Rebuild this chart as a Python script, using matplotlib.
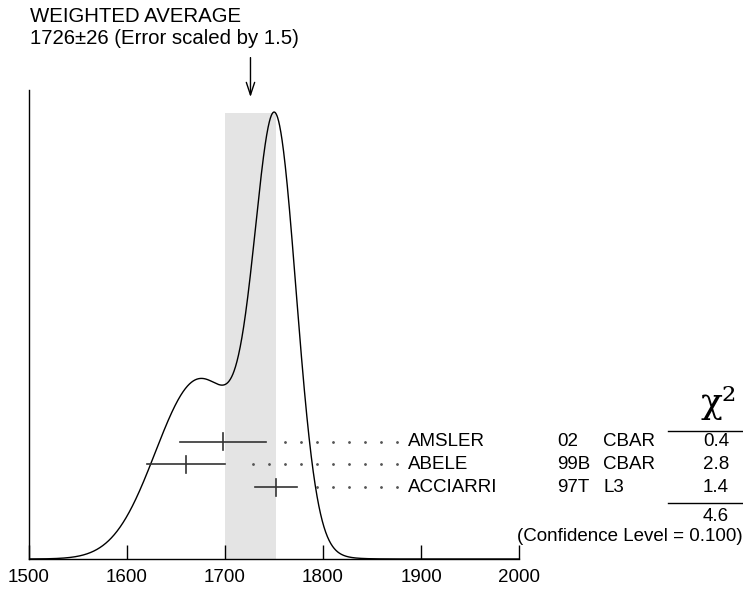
import matplotlib
matplotlib.use("Agg")
import matplotlib.pyplot as plt
import numpy as np

plt.rcParams['font.family'] = ['Liberation Sans', 'DejaVu Sans']

names = ['AMSLER', 'ABELE', 'ACCIARRI']
years = ['02', '99B', '97T']
experiments = ['CBAR', 'CBAR', 'L3']
values = [1698, 1660, 1752]
errors = [44, 40, 21]
chi2_labels = ['0.4', '2.8', '1.4']
chi2_total = '4.6'
conf_level = '0.100'

avg = 1726
avg_err = 26
scale = 1.5

xticks = [1500, 1600, 1700, 1800, 1900, 2000]

W, H = 743, 606
fig = plt.figure(figsize=(W / 100, H / 100), dpi=100)
ax = fig.add_axes([29 / W, (H - 559) / H, 490 / W, (559 - 90) / H])
ax.set_xlim(1500, 2000)
ax.set_ylim(0, 1)

# ideogram: each measurement a gaussian with area ~ 1/sigma
x = np.linspace(1500, 2000, 2001)
curve = np.zeros_like(x)
for v, e in zip(values, errors):
    curve += (1 / e) * np.exp(-0.5 * ((x - v) / e) ** 2) / (e * np.sqrt(2 * np.pi))
peak = 0.953
curve = curve / curve.max() * peak

ax.fill_between([avg - avg_err, avg + avg_err], 0, 0.951, color='#e4e4e4', lw=0, zorder=1)
ax.plot(x, curve, color='black', lw=1.0, zorder=3)

fs = 13.5
# rows of measurements
y0, dy = 0.25, 0.0485
dot_end, dot_step = 1875, 16.3
for i, (v, e) in enumerate(zip(values, errors)):
    y = y0 - i * dy
    ax.plot([v - e, v + e], [y, y], color='#333333', lw=1.2, zorder=4)
    ax.plot([v, v], [y - 0.018, y + 0.018], color='#333333', lw=1.2, zorder=4)
    dots = np.arange(dot_end, 1500, -dot_step)
    dots = dots[dots > v + e + 14]
    ax.plot(dots, np.full(len(dots), y), ls='none', marker='o', ms=1.0,
            color='#555555', zorder=4)
    ax.text(1887, y, names[i], fontsize=fs, va='center', ha='left', clip_on=False)
    ax.text(2039, y, years[i], fontsize=fs, va='center', ha='left', clip_on=False)
    ax.text(2086, y, experiments[i], fontsize=fs, va='center', ha='left', clip_on=False)
    ax.text(2201, y, chi2_labels[i], fontsize=fs, va='center', ha='center', clip_on=False)

# chi^2 column header
ax.text(2204, 0.332, '\u03c7\u00b2', fontsize=26, family='DejaVu Serif',
        va='center', ha='center', clip_on=False)
ax.plot([2152, 2229], [0.273, 0.273], color='black', lw=1.0, clip_on=False)
ax.plot([2152, 2229], [0.119, 0.119], color='black', lw=1.0, clip_on=False)
ax.text(2201, 0.09, chi2_total, fontsize=fs, va='center', ha='center', clip_on=False)
ax.text(2228, 0.047, '(Confidence Level = %s)' % conf_level, fontsize=fs,
        va='center', ha='right', clip_on=False)

# arrow pointing at the weighted average
ax.annotate('', xy=(avg, 0.979), xytext=(avg, 1.075),
            arrowprops=dict(arrowstyle='->,head_length=0.9,head_width=0.3', color='black', lw=1.0),
            annotation_clip=False)

fig.text(30 / W, 1 - 16 / H, 'WEIGHTED AVERAGE', fontsize=14.7, va='center', ha='left')
fig.text(30 / W, 1 - 38 / H, '%d\u00b1%d (Error scaled by %.1f)' % (avg, avg_err, scale),
         fontsize=14.7, va='center', ha='left')

for s in ['top', 'right']:
    ax.spines[s].set_visible(False)
ax.spines['left'].set_linewidth(1.0)
ax.spines['bottom'].set_linewidth(1.0)
ax.set_yticks([])
ax.set_xticks(xticks)
ax.set_xticklabels([str(t) for t in xticks], fontsize=fs)
ax.tick_params(axis='x', direction='in', length=10, width=1.0, pad=7)

fig.savefig('out.png', dpi=100)
